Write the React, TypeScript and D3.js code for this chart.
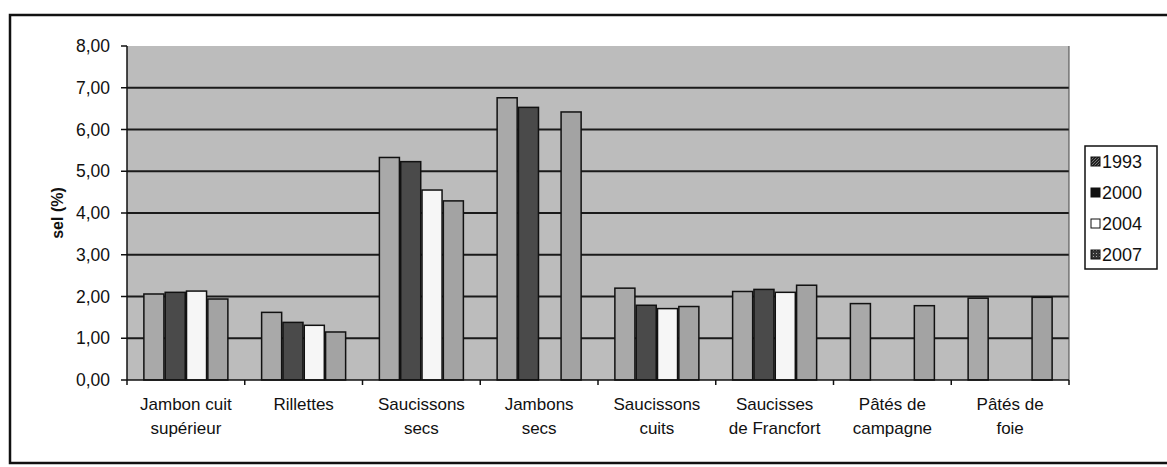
import React from "react";
import * as d3 from "d3";

const categories = [
  ["Jambon cuit", "supérieur"],
  ["Rillettes", ""],
  ["Saucissons", "secs"],
  ["Jambons", "secs"],
  ["Saucissons", "cuits"],
  ["Saucisses", "de Francfort"],
  ["Pâtés de", "campagne"],
  ["Pâtés de", "foie"],
];
const years = ["1993", "2000", "2004", "2007"];
const v1993 = [2.06, 1.62, 5.33, 6.76, 2.2, 2.12, 1.83, 1.96];
const v2000 = [2.1, 1.38, 5.23, 6.53, 1.79, 2.17, null, null];
const v2004 = [2.13, 1.31, 4.55, null, 1.71, 2.1, null, null];
const v2007 = [1.94, 1.15, 4.29, 6.42, 1.76, 2.27, 1.78, 1.98];
const yTicks = [0, 1, 2, 3, 4, 5, 6, 7, 8];
const yTitle = "sel (%)";

const seriesValues = [v1993, v2000, v2004, v2007];
const fills = ["#a9a9a9", "#4a4a4a", "#f6f6f6", "#a3a3a3"];

export default function App() {
  const W = 1167, H = 467;
  const left = 127, right = 1069, top = 46, bottom = 380;
  const catKeys = categories.map((c, i) => String(i));
  const x = d3.scaleBand().domain(catKeys).range([left, right]).padding(0);
  const inner = d3.scaleBand().domain(years).range([-42, 42]).paddingInner(0.06);
  const y = d3.scaleLinear().domain([0, 8]).range([bottom, top]);
  const fmt = (v: number) => d3.format(".2f")(v).replace(".", ",");
  const font = "'Liberation Sans', Arial, sans-serif";
  const legendY = [162, 193, 224, 255];

  return (
    <svg width={W} height={H} style={{ position: "absolute", left: 0, top: 0, background: "#fff" }}>
      <defs>
        <pattern id="p1993" width="3" height="3" patternUnits="userSpaceOnUse">
          <rect width="3" height="3" fill="#222" />
          <path d="M0,3 L3,0" stroke="#888" strokeWidth="0.8" />
        </pattern>
        <pattern id="p2007" width="3" height="3" patternUnits="userSpaceOnUse">
          <rect width="3" height="3" fill="#333" />
          <rect x="1" y="1" width="1" height="1" fill="#aaa" />
        </pattern>
      </defs>
      {/* outer frame */}
      <rect x={10} y={15} width={1170} height={448} fill="none" stroke="#111" strokeWidth={2.5} />
      {/* plot area */}
      <rect x={left} y={top} width={right - left} height={bottom - top} fill="#bcbcbc" />
      {yTicks.filter((t) => t > 0 && t < 8).map((t) => (
        <line key={t} x1={left} x2={right} y1={y(t)} y2={y(t)} stroke="#1a1a1a" strokeWidth={2} />
      ))}
      <line x1={right} x2={right} y1={top} y2={bottom} stroke="#444" strokeWidth={1} />
      {/* bars */}
      {categories.map((c, i) =>
        years.map((yr, s) => {
          const v = seriesValues[s][i];
          if (v == null) return null;
          const bx = (x(String(i)) as number) + x.bandwidth() / 2 + (inner(yr) as number);
          return (
            <rect
              key={i + "-" + s}
              x={bx}
              y={y(v)}
              width={inner.bandwidth()}
              height={y(0) - y(v)}
              fill={fills[s]}
              stroke="#111"
              strokeWidth={1.5}
            />
          );
        })
      )}
      {/* axes */}
      <line x1={left} x2={left} y1={top} y2={bottom} stroke="#111" strokeWidth={1.5} />
      <line x1={left} x2={right} y1={bottom} y2={bottom} stroke="#111" strokeWidth={1.5} />
      {yTicks.map((t) => (
        <g key={t}>
          <line x1={left - 6} x2={left} y1={y(t)} y2={y(t)} stroke="#111" strokeWidth={1.5} />
          <text x={110} y={y(t)} dy="0.35em" textAnchor="end" fontFamily={font} fontSize={17.5} fill="#111">
            {fmt(t)}
          </text>
        </g>
      ))}
      {catKeys.concat(["end"]).map((k, i) => {
        const xx = i < catKeys.length ? (x(k) as number) : right;
        return <line key={k} x1={xx} x2={xx} y1={bottom} y2={bottom + 5} stroke="#111" strokeWidth={1.5} />;
      })}
      {categories.map((c, i) => {
        const cx = (x(String(i)) as number) + x.bandwidth() / 2;
        return (
          <text key={i} textAnchor="middle" fontFamily={font} fontSize={17} fill="#111">
            <tspan x={cx} y={410}>{c[0]}</tspan>
            {c[1] && <tspan x={cx} y={434}>{c[1]}</tspan>}
          </text>
        );
      })}
      <text
        transform={`translate(57,${(top + bottom) / 2}) rotate(-90)`}
        dy="0.35em"
        textAnchor="middle"
        fontFamily={font}
        fontSize={16}
        fontWeight="bold"
        fill="#111"
      >
        {yTitle}
      </text>
      {/* legend */}
      <rect x={1085} y={146} width={72} height={123} fill="#fff" stroke="#111" strokeWidth={1.5} />
      {years.map((yr, s) => (
        <g key={yr}>
          <rect
            x={1091}
            y={legendY[s] - 5}
            width={9}
            height={9}
            fill={s === 0 ? "url(#p1993)" : s === 1 ? "#111" : s === 2 ? "#fff" : "url(#p2007)"}
            stroke="#111"
            strokeWidth={1}
          />
          <text x={1102} y={legendY[s]} dy="0.35em" fontFamily={font} fontSize={18} fill="#111">
            {yr}
          </text>
        </g>
      ))}
    </svg>
  );
}
